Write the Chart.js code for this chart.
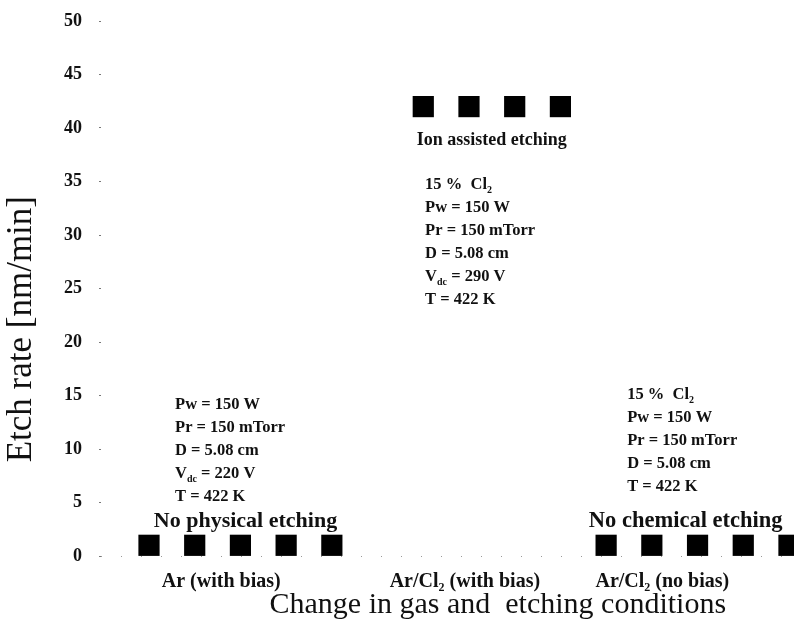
<!DOCTYPE html>
<html>
<head>
<meta charset="utf-8">
<script src="https://cdn.jsdelivr.net/npm/chart.js@4.4.1/dist/chart.umd.min.js"></script>
<style>
  html, body { margin: 0; padding: 0; background: #fff; }
  #wrap { width: 794px; height: 635px; }
</style>
</head>
<body>
<div id="wrap"><canvas id="c" width="794" height="635"></canvas></div>
<script>
// Etch rate measured for each run, grouped by gas / bias condition
const arBiasRuns      = [0, 1, 2, 3, 4];
const arBiasRate      = [1, 1, 1, 1, 1];
const arCl2BiasRuns   = [6, 7, 8, 9];
const arCl2BiasRate   = [42, 42, 42, 42];
const arCl2NoBiasRuns = [10, 11, 12, 13, 14];
const arCl2NoBiasRate = [1, 1, 1, 1, 1];

// Condition labels along the x axis and where they sit
const conditionLabels = ['Ar (with bias)', 'Ar/Cl\u2082 (with bias)', 'Ar/Cl\u2082 (no bias)'];
const conditionPos    = [1.58, 6.91, 11.23];

// Y axis ticks
const yTicks = [0, 5, 10, 15, 20, 25, 30, 35, 40, 45, 50];

// Axis titles
const xTitle = 'Change in gas and  etching conditions';
const yTitle = 'Etch rate [nm/min]';

// Process notes written next to each group ("_{..}" marks a subscript)
const notes = [
  { x: 0.57, y: 14.1, align: 'left', size: 16.5, lines: ['Pw = 150 W', 'Pr = 150 mTorr', 'D = 5.08 cm', 'V_{dc} = 220 V', 'T = 422 K'] },
  { x: 2.11, y: 3.27, align: 'center', size: 22, lines: ['No physical etching'] },
  { x: 7.5, y: 38.8, align: 'center', size: 18, lines: ['Ion assisted etching'] },
  { x: 6.04, y: 34.67, align: 'left', size: 16.5, lines: ['15 %  Cl_{2}', 'Pw = 150 W', 'Pr = 150 mTorr', 'D = 5.08 cm', 'V_{dc} = 290 V', 'T = 422 K'] },
  { x: 10.46, y: 15.05, align: 'left', size: 16.5, lines: ['15 %  Cl_{2}', 'Pw = 150 W', 'Pr = 150 mTorr', 'D = 5.08 cm', 'T = 422 K'] },
  { x: 11.74, y: 3.27, align: 'center', size: 22.5, lines: ['No chemical etching'] }
];

const SERIF = '"Liberation Serif", "DejaVu Serif", serif';
const LINE_GAP = 23;

function toPoints(xs, ys) { return xs.map((x, i) => ({ x: x, y: ys[i] })); }

function splitRich(text) {
  const parts = [];
  const re = /_\{([^}]*)\}/g;
  let last = 0, m;
  while ((m = re.exec(text)) !== null) {
    if (m.index > last) parts.push({ t: text.slice(last, m.index), sub: false });
    parts.push({ t: m[1], sub: true });
    last = re.lastIndex;
  }
  if (last < text.length) parts.push({ t: text.slice(last), sub: false });
  return parts;
}

function drawRich(ctx, text, x, y, size, align) {
  const parts = splitRich(text);
  const mainFont = 'bold ' + size + 'px ' + SERIF;
  const subFont = 'bold ' + Math.round(size * 0.6) + 'px ' + SERIF;
  let w = 0;
  parts.forEach(p => { ctx.font = p.sub ? subFont : mainFont; p.w = ctx.measureText(p.t).width; w += p.w; });
  let cx = align === 'center' ? x - w / 2 : x;
  ctx.textAlign = 'left';
  ctx.textBaseline = 'middle';
  parts.forEach(p => {
    ctx.font = p.sub ? subFont : mainFont;
    ctx.fillText(p.t, cx, p.sub ? y + size * 0.35 : y);
    cx += p.w;
  });
}

// Notes, axis titles and the faint dotted zero line
const annotatePlugin = {
  id: 'annotate',
  beforeDatasetsDraw(chart) {
    const ctx = chart.ctx;
    const xs = chart.scales.x, ys = chart.scales.y;
    const y0 = Math.round(ys.getPixelForValue(0)) + 0.5;
    ctx.save();
    ctx.strokeStyle = '#999';
    ctx.lineWidth = 1;
    ctx.setLineDash([1, 19]);
    ctx.beginPath();
    ctx.moveTo(xs.left, y0);
    ctx.lineTo(xs.right, y0);
    ctx.stroke();
    ctx.restore();
  },
  afterDatasetsDraw(chart) {
    const ctx = chart.ctx;
    const xs = chart.scales.x, ys = chart.scales.y;
    ctx.save();
    ctx.fillStyle = '#111';
    notes.forEach(n => {
      const px = xs.getPixelForValue(n.x);
      const py = ys.getPixelForValue(n.y);
      n.lines.forEach((line, i) => drawRich(ctx, line, px, py + i * LINE_GAP, n.size, n.align));
    });

    ctx.textAlign = 'center';
    ctx.textBaseline = 'middle';
    ctx.font = '30px ' + SERIF;
    ctx.fillText(xTitle, xs.getPixelForValue(7.63), xs.bottom - 30);

    ctx.font = '35px ' + SERIF;
    ctx.translate(ys.left + 22, ys.getPixelForValue(21.2));
    ctx.rotate(-Math.PI / 2);
    ctx.fillText(yTitle, 0, 0);
    ctx.restore();
  }
};

const squareStyle = {
  pointStyle: 'rect',
  pointRadius: 15,
  pointHoverRadius: 15,
  borderWidth: 0,
  backgroundColor: '#000',
  borderColor: '#000',
  showLine: false,
  clip: false
};

new Chart(document.getElementById('c'), {
  type: 'scatter',
  data: {
    datasets: [
      Object.assign({ label: 'Ar (with bias)', data: toPoints(arBiasRuns, arBiasRate) }, squareStyle),
      Object.assign({ label: 'Ar/Cl2 (with bias)', data: toPoints(arCl2BiasRuns, arCl2BiasRate) }, squareStyle),
      Object.assign({ label: 'Ar/Cl2 (no bias)', data: toPoints(arCl2NoBiasRuns, arCl2NoBiasRate) }, squareStyle)
    ]
  },
  options: {
    responsive: false,
    animation: false,
    events: [],
    layout: { autoPadding: false, padding: { top: 21, right: 0, bottom: 0, left: 0 } },
    plugins: { legend: { display: false }, tooltip: { enabled: false } },
    scales: {
      x: {
        type: 'linear',
        min: -1.05,
        max: 14.11,
        afterFit(scale) { scale.height = 79; },
        afterBuildTicks(scale) { scale.ticks = conditionPos.map(v => ({ value: v })); },
        grid: { display: false },
        border: { display: false },
        ticks: {
          autoSkip: false,
          maxRotation: 0,
          padding: 6,
          color: '#111',
          font: { family: SERIF, size: 20, weight: 'bold' },
          callback(value, index) { return conditionLabels[index]; }
        },
        title: { display: false }
      },
      y: {
        type: 'linear',
        min: 0,
        max: 50,
        afterFit(scale) { scale.width = 101; },
        afterBuildTicks(scale) { scale.ticks = yTicks.map(v => ({ value: v })); },
        // long tick slot, but only a short dot of it is inked next to the axis
        grid: {
          display: true,
          drawOnChartArea: false,
          drawTicks: true,
          tickLength: 17,
          tickColor: '#777',
          tickBorderDash: [0, 15, 2, 100]
        },
        border: { display: false },
        ticks: {
          padding: 2,
          color: '#111',
          font: { family: SERIF, size: 18, weight: 'bold' }
        },
        title: { display: false }
      }
    }
  },
  plugins: [annotatePlugin]
});
</script>
</body>
</html>
